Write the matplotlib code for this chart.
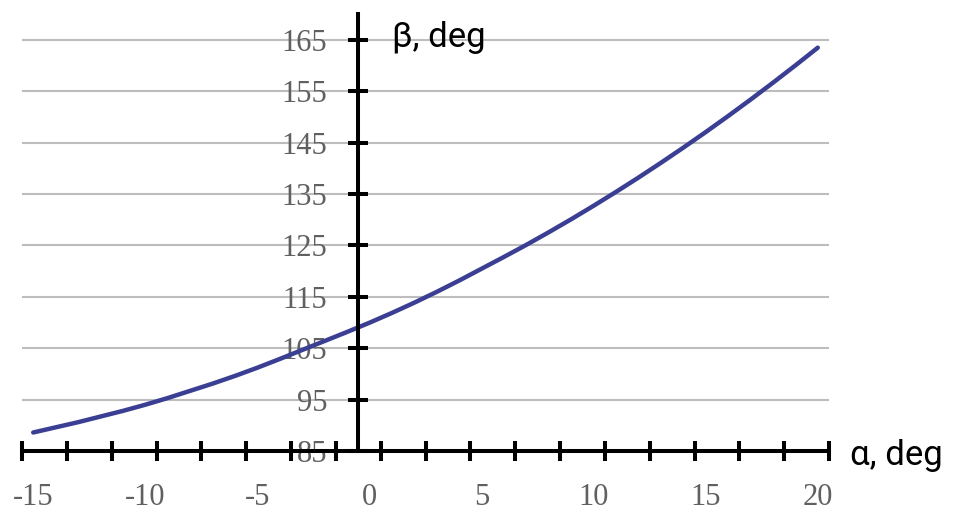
import matplotlib
matplotlib.use("Agg")
import matplotlib.pyplot as plt
import numpy as np

# alpha, deg (one category per degree, as in the original sheet)
alpha = list(range(-15, 21))
# beta, deg
beta = [88.6, 89.6, 90.6, 91.7, 92.8, 94.0, 95.3, 96.7, 98.1, 99.6,
        101.2, 102.9, 104.65, 106.4, 108.15, 109.95, 111.85, 113.85, 115.95, 118.15,
        120.45, 122.75, 125.1, 127.55, 130.08, 132.7, 135.4, 138.18, 141.05, 144.0,
        147.03, 150.15, 153.35, 156.63, 160.0, 163.45]

x_labels = [-15, -10, -5, 0, 5, 10, 15, 20]
y_ticks = [85, 95, 105, 115, 125, 135, 145, 155, 165]

tick_color = "#606060"
serif = "Liberation Serif"

fig = plt.figure(figsize=(9.8, 5.11), dpi=100)
ax = fig.add_axes([22 / 980, 60 / 511, 807 / 980, 437 / 511])

ax.plot(alpha, beta, color="#3b3f94", linewidth=3.2, solid_capstyle="round", zorder=3)

ax.set_xlim(-15.5, 20.5)
ax.set_ylim(85, 170)

# gridlines
for y in y_ticks[1:]:
    ax.axhline(y, color="#bdbdbd", linewidth=1.5, zorder=1)

# axes crossing inside the plot
ax.spines["left"].set_position(("data", -0.5))
ax.spines["bottom"].set_position(("data", 85))
ax.spines["top"].set_visible(False)
ax.spines["right"].set_visible(False)
for s in ["left", "bottom"]:
    ax.spines[s].set_linewidth(2.9)
    ax.spines[s].set_color("black")
    ax.spines[s].set_zorder(4)

# x: labels every 5, marks every 2 categories
ax.set_xticks(x_labels)
ax.set_xticklabels([str(v) for v in x_labels])
ax.set_xticks(np.arange(-15.5, 20.6, 2), minor=True)
ax.tick_params(axis="x", which="major", length=0, pad=23,
               labelsize=22, labelcolor=tick_color)
ax.tick_params(axis="x", which="minor", direction="inout", length=14.4,
               width=2.9, color="black")

ax.set_yticks(y_ticks)
ax.set_yticklabels([str(v) for v in y_ticks])
ax.tick_params(axis="y", which="major", direction="inout", length=14.4,
               width=2.9, color="black", pad=15,
               labelsize=22, labelcolor=tick_color)

for lab in ax.get_xticklabels() + ax.get_yticklabels():
    lab.set_family(serif)

fig.text(850 / 980, 1 - 456 / 511, "α, deg", ha="left", va="center",
         fontsize=25, family=["Roboto", "DejaVu Sans"], color="black")
fig.text(392 / 980, 1 - 38 / 511, "β, deg", ha="left", va="center",
         fontsize=25, family=["Roboto", "DejaVu Sans"], color="black")

fig.savefig("out.png", dpi=100)
